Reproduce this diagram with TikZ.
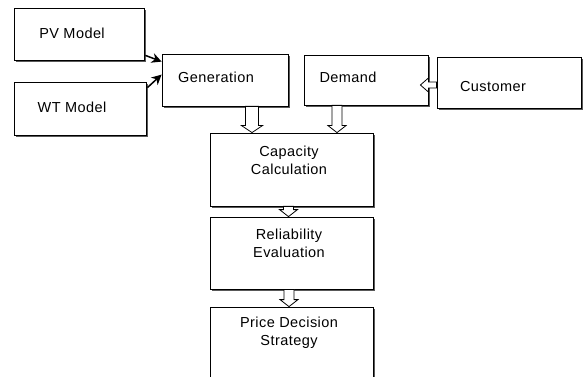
\documentclass[tikz,border=0pt]{standalone}
\usepackage{fontspec}
\setmainfont{Liberation Sans}[LetterSpace=3]
\usetikzlibrary{calc,shadows,arrows.meta}
\tikzset{
  box/.style={draw, line width=0.8pt, fill=white, inner sep=0pt, anchor=center,
    drop shadow={shadow xshift=2pt, shadow yshift=-2pt, fill=black!65, opacity=1}},
  lbl/.style={font=\fontsize{14.5}{18}\selectfont, inner sep=0pt, align=center},
  blockarr/.style={draw, line width=0.8pt, fill=white},
  feed/.style={line width=1.5pt, -{Stealth[length=10pt,width=10pt]}}
}
\newcommand\downarr[3]{%
  \draw[blockarr] let \p1=(#1), \p2=(#2) in
  (\x1-#3,\y1) -- (\x1-#3,\y2+7pt) -- (\x1-#3-4pt,\y2+7pt) -- (\x1,\y2)
  -- (\x1+#3+4pt,\y2+7pt) -- (\x1+#3,\y2+7pt) -- (\x1+#3,\y1) -- cycle;}
\newcommand\leftarr[3]{%
  \draw[blockarr] let \p1=(#1), \p2=(#2) in
  (\x1,\y1-#3) -- (\x2+8pt,\y1-#3) -- (\x2+8pt,\y1-#3-4pt) -- (\x2,\y1)
  -- (\x2+8pt,\y1+#3+4pt) -- (\x2+8pt,\y1+#3) -- (\x1,\y1+#3) -- cycle;}
\begin{document}
\begin{tikzpicture}[x=1pt,y=-1pt]
\useasboundingbox (0,0) rectangle (584,377);
\node[box, minimum width=130pt, minimum height=52pt] (pv) at (79,34) {};
\node[box, minimum width=132pt, minimum height=53pt] (wt) at (80,108.5) {};
\node[box, minimum width=126pt, minimum height=52pt] (gen) at (225,80) {};
\node[box, minimum width=124pt, minimum height=50pt] (dem) at (366,80) {};
\node[box, minimum width=144pt, minimum height=51pt] (cus) at (509,82.5) {};
\node[box, minimum width=163pt, minimum height=73pt] (cap) at (291.5,169.5) {};
\node[box, minimum width=163pt, minimum height=72pt] (rel) at (291.5,253) {};
\node[box, minimum width=163pt, minimum height=73pt] (pri) at (291.5,343.5) {};

\node[lbl] (tpv) at (72,33) {PV Model};
\node[lbl] (twt) at (72,107) {WT Model};
\node[lbl] (tgen) at (216,77) {Generation};
\node[lbl] (tdem) at (348,77) {Demand};
\node[lbl] (tcus) at (493,87) {Customer};
\node[lbl] (tcap) at (289,160) {Capacity\\Calculation};
\node[lbl] (trel) at (289,243.5) {Reliability\\Evaluation};
\node[lbl] (tpri) at (289,332.5) {Price Decision\\Strategy};

% feed arrows
\coordinate (pvs) at ($(pv.south east)+(1,-5)$);
\coordinate (pve) at ($(gen.north west)+(0,8)$);
\coordinate (wts) at ($(wt.north east)+(1,6)$);
\coordinate (wte) at ($(gen.north west)+(0,21)$);
\draw[feed] (pvs) -- (pve);
\draw[feed] (wts) -- (wte);

% block arrows
\coordinate (g1) at ($(gen.south)+(27,0)$);
\coordinate (g2) at (g1 |- cap.north);
\downarr{g1}{g2}{6.5pt}
\coordinate (d1) at ($(dem.south)+(-29,0)$);
\coordinate (d2) at (d1 |- cap.north);
\downarr{d1}{d2}{5pt}
\coordinate (c1) at ($(cap.south)+(-3,0)$);
\coordinate (c2) at (c1 |- rel.north);
\downarr{c1}{c2}{5pt}
\coordinate (r1) at ($(rel.south)+(-2.5,0)$);
\coordinate (r2) at (r1 |- pri.north);
\downarr{r1}{r2}{5pt}
\coordinate (u1) at ($(cus.west)+(0,2.5)$);
\coordinate (u2) at ($(dem.east)+(-8,5)$);
\leftarr{u1}{u2}{3pt}
\end{tikzpicture}
\end{document}
